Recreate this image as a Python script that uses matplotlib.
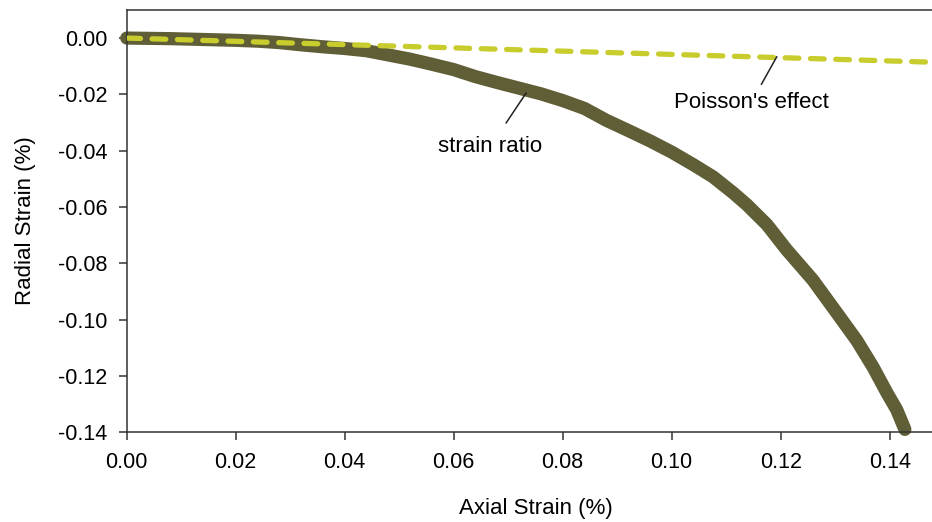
import numpy as np
import matplotlib
matplotlib.use("Agg")
import matplotlib.pyplot as plt

plt.rcParams['font.family'] = ['Liberation Sans', 'DejaVu Sans']
plt.rcParams['axes.unicode_minus'] = False

axial = [0.000, 0.004, 0.008, 0.012, 0.016, 0.020, 0.024, 0.028, 0.032, 0.036,
         0.040, 0.044, 0.048, 0.052, 0.056, 0.060, 0.064, 0.068, 0.072, 0.076,
         0.080, 0.084, 0.088, 0.092, 0.096, 0.100, 0.1040, 0.1076, 0.1113, 0.1138,
         0.1175, 0.1211, 0.1259, 0.1303, 0.1340, 0.1370, 0.1395, 0.1413, 0.1428]
radial = [0.0000, -0.0001, -0.0002, -0.0004, -0.0006, -0.0008, -0.0011, -0.0016, -0.0024, -0.0031,
          -0.0037, -0.0045, -0.0060, -0.0075, -0.0093, -0.0112, -0.0137, -0.0158, -0.0178, -0.0198,
          -0.0222, -0.0250, -0.0292, -0.0328, -0.0365, -0.0405, -0.0450, -0.0493, -0.0550, -0.0592,
          -0.0663, -0.0752, -0.0859, -0.0976, -0.1075, -0.1170, -0.1260, -0.1320, -0.1390]

# Poisson's effect line
poisson_x = [0.0, 0.15]
poisson_y = [0.0, -0.0087]

xticks = [0.00, 0.02, 0.04, 0.06, 0.08, 0.10, 0.12, 0.14]
yticks = [0.00, -0.02, -0.04, -0.06, -0.08, -0.10, -0.12, -0.14]

olive = '#605e36'
yellow = '#c8cc2c'

fig = plt.figure(figsize=(9.32, 5.22), dpi=100)
ax = fig.add_axes([0.136, 0.172, 1.013 - 0.136, 0.981 - 0.172])

ax.plot(axial, radial, color=olive, lw=9.5, solid_capstyle='round',
        solid_joinstyle='round', zorder=2, clip_on=False)
ax.plot(poisson_x, poisson_y, color=yellow, lw=3.8, linestyle=(0, (2.6, 2.2)),
        dash_capstyle='round', zorder=3)

ax.annotate('strain ratio', xy=(0.0733, -0.0195), xytext=(0.0667, -0.0386),
            ha='center', va='center', fontsize=16,
            arrowprops=dict(arrowstyle='-', color='#222222', lw=1.1, shrinkA=9, shrinkB=0))
ax.annotate("Poisson's effect", xy=(0.1193, -0.0066), xytext=(0.1146, -0.0229),
            ha='center', va='center', fontsize=16,
            arrowprops=dict(arrowstyle='-', color='#222222', lw=1.1, shrinkA=4, shrinkB=0))

ax.set_xlim(0, 0.15)
ax.set_ylim(-0.14, 0.01)
ax.set_xticks(xticks)
ax.set_yticks(yticks)
ax.set_xticklabels(['%.2f' % v for v in xticks])
ax.set_yticklabels(['%.2f' % v if v != 0 else '0.00' for v in yticks])
ax.tick_params(direction='out', length=6, width=1.1, labelsize=15.5, color='#333333')
ax.tick_params(axis='x', pad=8)
ax.tick_params(axis='y', pad=8)
for s in ax.spines.values():
    s.set_linewidth(1.1)
    s.set_color('#333333')

ax.set_xlabel('Axial Strain (%)', fontsize=16, labelpad=18)
ax.set_ylabel('Radial Strain (%)', fontsize=16, labelpad=16)

fig.savefig('out.png', dpi=100)
